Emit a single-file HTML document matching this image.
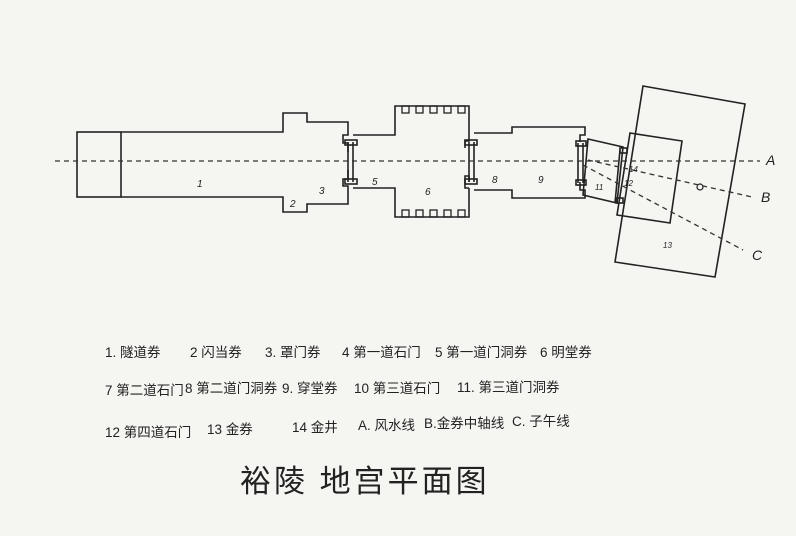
<!DOCTYPE html>
<html><head><meta charset="utf-8"><style>
body{margin:0;background:#f5f5f2;}
svg{display:block}
text{font-family:"Liberation Sans","Noto Sans CJK SC",sans-serif;fill:#222}
</style></head><body>
<svg width="796" height="536" viewBox="0 0 796 536" xmlns="http://www.w3.org/2000/svg">
<rect width="796" height="536" fill="#f5f5f2"/>
<g fill="none" stroke="#222" stroke-width="1.6">
<rect x="77" y="132" width="44" height="65"/>
<path d="M121 132 H283 V113 H307 V122 H348 V135 H343 V143 H348 V152 M348 170 V179 H343 V186 H348 V204 H307 V212 H283 V197 H121"/>
<path d="M348 142 V182 M353 142 V182"/>
<rect x="345" y="140" width="12" height="5"/><rect x="345" y="179" width="12" height="5"/>
<path d="M353 135 H395 V106 H469 V135 M469 188 V217 H395 V188 H353"/>
<g stroke-width="1.3">
<rect x="402" y="106" width="7" height="7"/><rect x="416" y="106" width="7" height="7"/><rect x="430" y="106" width="7" height="7"/><rect x="444" y="106" width="7" height="7"/><rect x="458" y="106" width="7" height="7"/>
<rect x="402" y="210" width="7" height="7"/><rect x="416" y="210" width="7" height="7"/><rect x="430" y="210" width="7" height="7"/><rect x="444" y="210" width="7" height="7"/><rect x="458" y="210" width="7" height="7"/>
</g>
<path d="M469 135 V141 H465 V148 M469 182 V176 H465 V188 H469"/>
<path d="M469 142 V182 M474 142 V182"/>
<rect x="465" y="140" width="12" height="5"/><rect x="465" y="179" width="12" height="5"/>
<path d="M474 133 H512 V127 H585 V135 H580 V142 M580 182 V190 H585 V198 H512 V190 H474"/>
<path d="M578 143 V183 M583 143 V183"/>
<rect x="576" y="141" width="10" height="5"/><rect x="576" y="180" width="10" height="5"/>
<path d="M588 139 L623 147 L617 203 L583 195 Z"/>
<path d="M630 133 L682 141 L670 223 L617 215 Z"/>
<path d="M620 150 L615 203" />
<rect x="620" y="148" width="7" height="5"/><rect x="616" y="198" width="7" height="5"/>
<path d="M643 86 L745 104 L715 277 L615 262 Z"/>
<circle cx="700" cy="187" r="3" stroke-width="1.2"/>
</g>
<g fill="none" stroke="#333" stroke-width="1.3" stroke-dasharray="5,4">
<path d="M55 161 H760"/>
<path d="M588 160 L752 197"/>
<path d="M583 165 L743 250"/>
</g>
<g font-size="10" font-style="italic">
<text x="197" y="187">1</text><text x="290" y="207">2</text><text x="319" y="194">3</text>
<text x="372" y="185">5</text><text x="425" y="195">6</text><text x="492" y="183">8</text><text x="538" y="183">9</text>
<text x="595" y="190" font-size="8">11</text><text x="629" y="172" font-size="8">14</text><text x="624" y="186" font-size="8">12</text>
<text x="663" y="248" font-size="8">13</text>
</g>
<g font-size="14" font-style="italic">
<text x="766" y="165">A</text><text x="761" y="202">B</text><text x="752" y="260">C</text>
</g>
<g font-size="13.5">
<text x="105" y="357">1. 隧道券</text><text x="190" y="357">2 闪当券</text><text x="265" y="357">3. 罩门券</text><text x="342" y="357">4 第一道石门</text><text x="435" y="357">5 第一道门洞券</text><text x="540" y="357">6 明堂券</text>
<text x="105" y="395">7 第二道石门</text><text x="185" y="393">8 第二道门洞券</text><text x="282" y="393">9. 穿堂券</text><text x="354" y="393">10 第三道石门</text><text x="457" y="392">11. 第三道门洞券</text>
<text x="105" y="437">12 第四道石门</text><text x="207" y="434">13 金券</text><text x="292" y="432">14 金井</text><text x="358" y="430">A. 风水线</text><text x="424" y="428">B.金券中轴线</text><text x="512" y="426">C. 子午线</text>
</g>
<text x="240" y="492" font-size="31" letter-spacing="3">裕陵 地宫平面图</text>
</svg>
</body></html>
